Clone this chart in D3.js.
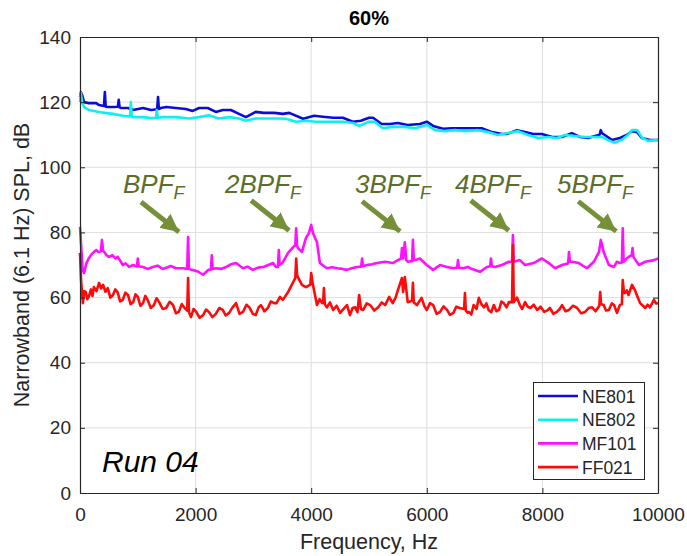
<!DOCTYPE html>
<html><head><meta charset="utf-8">
<script src="https://cdn.jsdelivr.net/npm/d3@7"></script>
<style>html,body{margin:0;padding:0;background:#fff;}svg{display:block;font-family:"Liberation Sans",Arial,sans-serif;}</style>
</head><body><svg id="chart" width="687" height="556"></svg>
<script>
const title = "60%";
const xLabel = "Frequency, Hz";
const yLabel = "Narrowband (6.1 Hz) SPL, dB";
const runLabel = "Run 04";
const xTicks = [0, 2000, 4000, 6000, 8000, 10000];
const yTicks = [0, 20, 40, 60, 80, 100, 120, 140];
const seriesNames = ["NE801", "NE802", "MF101", "FF021"];
const seriesColors = ["#0c0cd8", "#0ef0f0", "#ff10ff", "#ff0a0a"];

// [frequency Hz, SPL dB]
const ne801 = [[0,121.5],[15,123],[40,122],[70,120],[150,119.7],[280,119.7],[330,119.1],[415,118.8],[430,123.1],[445,118.6],[480,118.5],[590,118.5],[655,118.6],[670,120.7],[685,118.4],[710,118.2],[830,118.2],[920,117.6],[1090,118.2],[1230,117.6],[1335,117.8],[1350,121.6],[1365,117.9],[1400,118.2],[1490,118.5],[1660,118.2],[1830,117.9],[1950,117.3],[2060,118.2],[2210,118.2],[2350,117],[2470,117.6],[2610,117.6],[2750,116.4],[2870,115.4],[3040,117],[3180,116.7],[3360,116.7],[3510,116.4],[3620,116.7],[3860,114.9],[4050,115.8],[4200,115.5],[4380,115.2],[4550,115.2],[4720,114],[4860,114.3],[5000,115.2],[5070,115.2],[5220,113.3],[5360,113.3],[5500,113.6],[5670,113],[5880,113.3],[6000,114],[6110,112.7],[6280,111.8],[6430,112],[6610,112],[6780,112],[6950,112],[7130,110.8],[7300,110.2],[7380,110.2],[7560,111.4],[7700,110.8],[7840,110.2],[7990,110.2],[8170,109.3],[8340,109.3],[8510,110.5],[8650,109.3],[8790,109],[8910,109.6],[8990,110],[9010,111.4],[9030,110.5],[9080,109.9],[9200,108.4],[9340,109],[9460,109.9],[9550,111.1],[9640,110.8],[9720,109],[9860,108.4],[10000,108.4]];

const ne802 = [[0,120],[15,122.8],[35,120],[70,118.5],[150,117.6],[330,117],[430,116.7],[570,116.4],[740,115.8],[865,115.6],[880,120],[895,115.5],[920,115.4],[1090,115.4],[1230,115.1],[1315,115.2],[1330,117.6],[1345,115.2],[1430,115.4],[1660,115.4],[1890,115],[2060,115.4],[2230,116],[2400,115],[2580,115.4],[2750,115],[2870,114.3],[3040,115],[3220,115],[3390,115],[3560,114.9],[3740,114],[3910,114.3],[4080,114],[4310,114],[4550,114],[4720,113.6],[4830,112.7],[5000,114],[5100,114],[5240,112],[5410,112.4],[5620,112.4],[5800,112],[6000,113],[6140,111.4],[6310,111.1],[6490,111.4],[6660,111.1],[6890,111.4],[7060,110.8],[7230,109.9],[7400,110.5],[7580,111.1],[7750,109.9],[7920,109],[8100,109.3],[8250,109],[8390,109.9],[8560,109.6],[8740,109.3],[8910,109.3],[9030,109.3],[9130,108.4],[9250,107.5],[9370,108.4],[9480,109.9],[9550,111.4],[9640,111.4],[9730,109],[9830,108.1],[10000,108.4]];

const mf101 = [[0,81.7],[20,76],[45,68.5],[70,67.5],[110,70.5],[150,72],[210,73.5],[280,74.6],[320,74],[360,74.2],[380,77.7],[400,74.3],[420,74],[460,73],[500,72.5],[560,73],[610,72],[650,72.5],[700,71.2],[740,70],[790,70.5],[850,69.4],[920,70],[985,69.5],[1000,72],[1015,69.6],[1090,69.4],[1170,68.8],[1260,69.4],[1340,69.8],[1430,68.8],[1500,69.2],[1570,69.7],[1660,69],[1780,69],[1855,68.8],[1870,78.6],[1885,68.8],[1950,68.5],[2040,68],[2130,67],[2220,68.5],[2265,68.6],[2280,73],[2295,68.8],[2350,69],[2440,68.8],[2530,69.4],[2610,70.2],[2700,70.6],[2820,69],[2900,69.5],[2990,68.5],[3080,69.2],[3170,69.4],[3260,70],[3340,70.6],[3390,69.4],[3425,69.4],[3440,74.6],[3455,70],[3500,70.6],[3600,73.7],[3690,75.5],[3725,76],[3740,81.3],[3755,76],[3770,75.2],[3840,74],[3910,78.3],[3960,79.8],[4000,82.3],[4030,79.8],[4100,77],[4150,70.6],[4270,69],[4360,69.3],[4450,69],[4540,68.8],[4620,68.5],[4700,69],[4790,69.4],[4865,69.5],[4880,72],[4895,69.6],[4960,70],[5050,70.2],[5140,70.6],[5280,71],[5410,70.6],[5500,71.5],[5555,72],[5570,75.2],[5590,72],[5620,77],[5645,71.5],[5670,71],[5745,71.2],[5760,77.7],[5775,71.5],[5800,71.5],[5880,72],[6000,70],[6110,68.5],[6230,70],[6350,69.4],[6460,69],[6525,69.2],[6540,71.5],[6555,69.2],[6630,69],[6710,69.4],[6750,69],[6920,67.9],[7040,69.4],[7095,69.6],[7110,72],[7125,69.6],[7180,69.4],[7300,70],[7420,71],[7475,71],[7490,79.2],[7505,71],[7610,71.5],[7700,70],[7850,70.6],[7990,72],[8110,70.6],[8220,69],[8340,70],[8445,70.5],[8460,74],[8475,71],[8510,71],[8630,70.6],[8770,69],[8890,71],[8980,74],[9010,77.7],[9060,74],[9150,70],[9240,69.4],[9290,71],[9340,70.6],[9375,70.8],[9390,81.3],[9405,71],[9490,72.5],[9545,73],[9560,75.2],[9575,72.5],[9670,70],[9780,71],[9930,71.5],[10000,72]];

const ff021 = [[0,73.7],[20,64.8],[50,58.3],[75,62],[100,61.7],[125,59.5],[150,60.2],[190,62.5],[215,60.5],[240,63.2],[285,62],[330,64.5],[365,62.8],[400,63.9],[440,61.8],[480,62.9],[525,60],[570,60.8],[610,62.5],[650,61.7],[695,58.8],[740,59.3],[785,61.5],[830,60.8],[875,58],[920,58.6],[960,61],[1000,60.2],[1045,57.5],[1090,58.3],[1130,60.5],[1170,59.3],[1225,56.8],[1280,57.7],[1325,59.8],[1370,58.6],[1430,56.5],[1490,56.8],[1550,58.7],[1610,57.7],[1660,55.2],[1710,55.6],[1760,58],[1800,57],[1855,56],[1870,66],[1885,55.5],[1920,54],[1965,56.5],[2010,55.6],[2070,53.8],[2130,54.6],[2180,56.3],[2230,55.6],[2290,54],[2350,55],[2410,56.8],[2470,56.2],[2520,54.5],[2580,55.3],[2640,57],[2700,58.3],[2760,55],[2820,55.6],[2880,57.8],[2930,57],[2990,55],[3040,54.6],[3090,57],[3130,57.7],[3190,55.8],[3250,56.8],[3300,58.8],[3360,58.3],[3400,58.3],[3460,60.2],[3510,59.3],[3600,61.7],[3690,64.8],[3725,66],[3740,72],[3755,67],[3770,66.3],[3840,63.9],[3910,63.2],[3985,64],[4000,67.5],[4030,63.9],[4100,57.7],[4145,59.5],[4190,58.3],[4205,58.5],[4220,62.9],[4235,58],[4270,57],[4325,58.5],[4380,56.2],[4440,57.5],[4500,55.3],[4560,56.5],[4620,57.7],[4670,54.6],[4715,56.8],[4760,57],[4800,55.5],[4830,60.8],[4860,56.5],[4900,56.2],[4960,58.2],[5020,57.7],[5090,56],[5160,57],[5220,58.5],[5280,57.7],[5350,60.2],[5410,58.3],[5460,60],[5500,62.3],[5570,66],[5590,61.7],[5620,66.3],[5670,58.6],[5745,59],[5760,64.5],[5775,58.5],[5830,57.7],[5910,59.9],[5955,57.5],[6000,56.2],[6055,58.3],[6110,57.7],[6170,55],[6230,55.6],[6290,57.3],[6350,56.2],[6400,54.7],[6460,55.3],[6510,57.2],[6570,56.8],[6645,56.5],[6660,61.4],[6675,56],[6710,55.3],[6730,55.6],[6770,54.8],[6810,57.7],[6860,56.5],[6900,59.9],[6945,58],[6990,57],[7030,58.2],[7070,56.2],[7115,55.5],[7160,57.7],[7205,55.8],[7250,56.2],[7290,58.8],[7330,58.3],[7380,57],[7420,58.6],[7475,58.6],[7490,76.1],[7505,58.6],[7560,60],[7610,57.7],[7650,56.5],[7700,58.6],[7745,57.2],[7790,56.8],[7850,57.8],[7910,56.2],[7970,57.2],[8030,55.6],[8080,56],[8130,56.8],[8190,55],[8250,55.6],[8300,56.5],[8340,57.7],[8400,55.8],[8460,56.2],[8530,57.5],[8600,56.8],[8670,55.2],[8740,55.6],[8800,56.8],[8860,57],[8920,55.8],[8985,57.5],[9000,61.7],[9015,58],[9060,57.7],[9100,56],[9150,56.2],[9200,58.2],[9240,57.7],[9290,55.3],[9340,57.7],[9375,58],[9390,65.4],[9410,61.5],[9430,61.4],[9460,62.2],[9490,60.8],[9550,63.9],[9600,62.3],[9640,60.5],[9690,58.3],[9740,57.5],[9780,56.8],[9820,57.8],[9860,57],[9930,59.3],[9965,58.2],[10000,58.3]];

const seriesData = [ne801, ne802, mf101, ff021];

// annotation labels: text start (Hz), arrow tip (Hz, dB)
const annoPrefix = ["", "2", "3", "4", "5"];
const annoTextHz = [744, 2509, 4758, 6488, 8253];
const annoTipHz = [1765, 3670, 5590, 7470, 9330];
const annoTipDb = [79.5, 80.0, 79.7, 80.0, 79.7];

const svg = d3.select("#chart");
const L = 80, R = 658, T = 37, B = 493;
const x = d3.scaleLinear().domain([0, 10000]).range([L, R]);
const y = d3.scaleLinear().domain([0, 140]).range([B, T]);
const ink = "#262626";

// grid
const grid = svg.append("g").attr("stroke", "#dedede").attr("stroke-width", 1);
xTicks.slice(1, -1).forEach(t => grid.append("line").attr("x1", x(t)).attr("x2", x(t)).attr("y1", T).attr("y2", B));
yTicks.slice(1, -1).forEach(t => grid.append("line").attr("x1", L).attr("x2", R).attr("y1", y(t)).attr("y2", y(t)));

// series
const line = d3.line().x(d => x(d[0])).y(d => y(d[1]));
seriesNames.forEach((n, i) => {
  svg.append("path").datum(seriesData[i]).attr("d", line).attr("fill", "none")
    .attr("stroke", seriesColors[i]).attr("stroke-width", 2.6).attr("stroke-linejoin", "round");
});

// axes
function styleAxis(g) {
  g.selectAll("path.domain").attr("stroke", ink).attr("stroke-width", 1.2);
  g.selectAll(".tick line").attr("stroke", ink);
  g.selectAll(".tick text").attr("fill", ink).attr("font-size", 19)
    .attr("font-family", "'Liberation Sans',Arial,sans-serif");
}
const fmt = d3.format("d");
svg.append("g").attr("transform", `translate(0,${B})`)
  .call(d3.axisBottom(x).tickValues(xTicks).tickFormat(fmt).tickSizeInner(-5).tickSizeOuter(0).tickPadding(15)).call(styleAxis);
svg.append("g").attr("transform", `translate(${L},0)`)
  .call(d3.axisLeft(y).tickValues(yTicks).tickFormat(fmt).tickSizeInner(-5).tickSizeOuter(0).tickPadding(9)).call(styleAxis);
svg.append("g").attr("transform", `translate(0,${T})`)
  .call(d3.axisTop(x).tickValues(xTicks).tickSizeInner(-5).tickSizeOuter(0).tickFormat("")).call(styleAxis);
svg.append("g").attr("transform", `translate(${R},0)`)
  .call(d3.axisRight(y).tickValues(yTicks).tickSizeInner(-5).tickSizeOuter(0).tickFormat("")).call(styleAxis);

// title & labels
svg.append("text").attr("x", (L + R) / 2).attr("y", 25).attr("text-anchor", "middle")
  .attr("font-weight", "bold").attr("font-size", 20).attr("fill", "#000").text(title);
svg.append("text").attr("x", (L + R) / 2).attr("y", 549).attr("text-anchor", "middle")
  .attr("font-size", 21.5).attr("fill", ink).text(xLabel);
svg.append("text").attr("transform", `translate(29,${(T + B) / 2}) rotate(-90)`).attr("text-anchor", "middle")
  .attr("font-size", 21.5).attr("fill", ink).text(yLabel);
svg.append("text").attr("x", 102).attr("y", 472).attr("font-style", "italic")
  .attr("font-size", 30).attr("fill", "#000").text(runLabel);

// annotations
const olive = "#76903a", oliveText = "#5c6e2c";
const defs = svg.append("defs");
defs.append("marker").attr("id", "ah").attr("viewBox", "0 0 10 10").attr("refX", 10).attr("refY", 5)
  .attr("markerUnits", "userSpaceOnUse").attr("markerWidth", 18).attr("markerHeight", 18).attr("orient", "auto")
  .append("path").attr("d", "M0,0 L10,5 L0,10 Z").attr("fill", olive);
annoPrefix.forEach((p, i) => {
  const tx = x(annoTipHz[i]), ty = y(annoTipDb[i]);
  svg.append("line").attr("x1", tx - 41).attr("y1", ty - 32).attr("x2", tx - 3).attr("y2", ty - 2)
    .attr("stroke", olive).attr("stroke-width", 5).attr("marker-end", "url(#ah)");
  const t = svg.append("text").attr("x", x(annoTextHz[i])).attr("y", 193)
    .attr("font-style", "italic").attr("font-size", 26).attr("fill", oliveText);
  t.append("tspan").text(p + "BPF");
  t.append("tspan").attr("font-size", 18).attr("dy", 6).text("F");
});

// legend
const lg = svg.append("g");
lg.append("rect").attr("x", 533.5).attr("y", 382.5).attr("width", 111).attr("height", 97)
  .attr("fill", "#fff").attr("stroke", ink).attr("stroke-width", 1);
seriesNames.forEach((n, i) => {
  const yy = 396 + i * 23.7;
  lg.append("line").attr("x1", 538).attr("x2", 578).attr("y1", yy).attr("y2", yy)
    .attr("stroke", seriesColors[i]).attr("stroke-width", 2.6);
  lg.append("text").attr("x", 582).attr("y", yy + 6.5).attr("font-size", 17.5).attr("fill", ink).text(n);
});
</script></body></html>
